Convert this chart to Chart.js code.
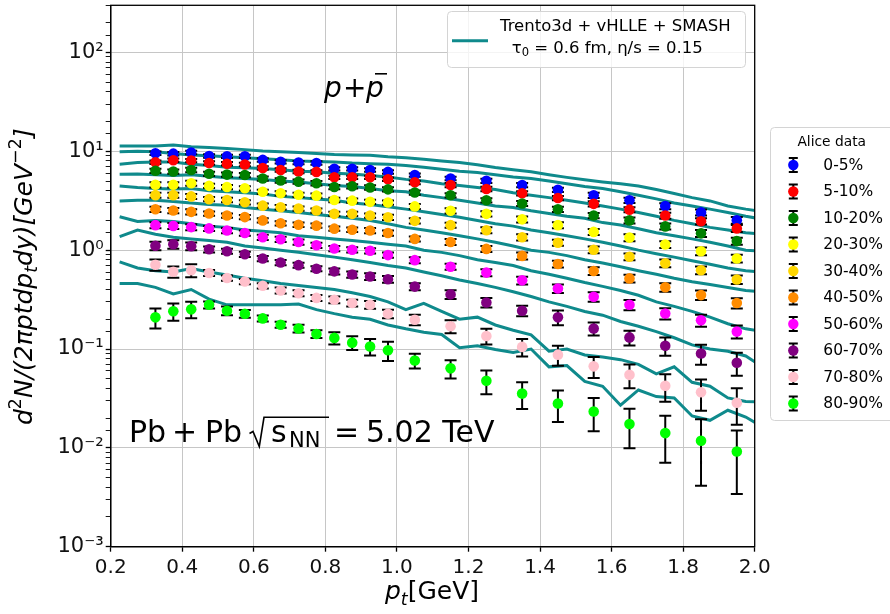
<!DOCTYPE html>
<html><head><meta charset="utf-8">
<style>html,body{margin:0;padding:0;background:#fff}#wrap{width:890px;height:614px;position:relative}</style>
<script src="https://cdn.jsdelivr.net/npm/chart.js@4"></script>
</head><body><div id="wrap"><canvas id="c" width="890" height="614"></canvas></div>
<script>
// ---------- data ----------
const centralities = ['0-5%','5-10%','10-20%','20-30%','30-40%','40-50%','50-60%','60-70%','70-80%','80-90%'];
const dotColors = ['#0000ff','#ff0000','#008000','#ffff00','#ffd700','#ff8c00','#ff00ff','#800080','#ffc0cb','#00ff00'];
const ptBins = [0.325,0.375,0.425,0.475,0.525,0.575,0.625,0.675,0.725,0.775,0.825,0.875,0.925,0.975,1.05,1.15,1.25,1.35,1.45,1.55,1.65,1.75,1.85,1.95];
const ptModel = [0.225,0.275,0.325,0.375,0.425,0.475,0.525,0.575,0.625,0.675,0.725,0.775,0.825,0.875,0.925,0.975,1.025,1.075,1.125,1.175,1.225,1.275,1.325,1.375,1.425,1.475,1.525,1.575,1.625,1.675,1.725,1.775,1.825,1.875,1.925,1.975,2.025];
const xTicks = [0.2,0.4,0.6,0.8,1.0,1.2,1.4,1.6,1.8,2.0];
const yTickLabels = {'-3':'10⁻³','-2':'10⁻²','-1':'10⁻¹','0':'10⁰','1':'10¹','2':'10²'};

// ALICE data (yield), per centrality
const d0_5   = [9.56,9.47,9.73,8.97,8.89,8.89,8.19,7.83,7.69,7.62,6.65,6.65,6.47,6.19,5.75,5.31,5.03,4.55,4.08,3.59,3.20,2.79,2.41,2.01];
const d5_10  = [7.76,8.12,8.05,7.62,7.48,7.35,6.77,6.48,6.24,6.19,5.45,5.45,5.45,5.21,4.85,4.55,4.16,3.76,3.37,2.94,2.57,2.24,1.96,1.66];
const d10_20 = [6.36,6.24,6.48,5.92,5.81,5.75,5.31,5.07,4.93,4.76,4.35,4.43,4.31,4.12,3.83,3.59,3.20,2.97,2.59,2.24,2.00,1.74,1.48,1.235];
const d20_30 = [4.59,4.59,4.76,4.47,4.35,4.23,3.90,3.76,3.63,3.56,3.22,3.17,3.08,3.03,2.77,2.50,2.33,2.05,1.79,1.53,1.34,1.14,0.976,0.822];
const d30_40 = [3.60,3.60,3.50,3.28,3.22,3.05,2.82,2.72,2.64,2.52,2.33,2.33,2.24,2.15,1.98,1.79,1.59,1.35,1.19,1.01,0.859,0.736,0.626,0.504];
const d40_50 = [2.59,2.52,2.44,2.35,2.24,2.16,2.00,1.87,1.81,1.77,1.65,1.61,1.58,1.49,1.30,1.21,1.03,0.875,0.724,0.615,0.518,0.421,0.351,0.292];
const d50_60 = [1.79,1.76,1.71,1.66,1.58,1.49,1.35,1.29,1.21,1.12,1.04,1.01,0.985,0.891,0.792,0.680,0.593,0.495,0.409,0.338,0.280,0.229,0.195,0.150];
const d60_70 = [1.108,1.148,1.098,1.02,0.976,0.908,0.822,0.750,0.705,0.649,0.610,0.567,0.542,0.508,0.428,0.357,0.295,0.244,0.209,0.161,0.131,0.108,0.090,0.0726];
const d70_80 = [0.711,0.604,0.626,0.588,0.523,0.482,0.436,0.391,0.367,0.329,0.315,0.292,0.280,0.227,0.198,0.170,0.1355,0.105,0.0877,0.0668,0.0548,0.0425,0.0365,0.0286];
const d80_90 = [0.209,0.241,0.252,0.280,0.244,0.227,0.204,0.176,0.161,0.142,0.1295,0.116,0.106,0.097,0.0766,0.0637,0.0478,0.0354,0.0281,0.0233,0.0174,0.0141,0.0118,0.0092];

// relative uncertainties
const e0_5   = [0.04,0.04,0.04,0.04,0.04,0.04,0.04,0.04,0.04,0.04,0.04,0.04,0.04,0.04,0.04,0.04,0.05,0.05,0.05,0.06,0.06,0.07,0.07,0.08];
const e5_10  = [0.04,0.04,0.04,0.04,0.04,0.04,0.04,0.04,0.04,0.04,0.04,0.04,0.04,0.04,0.04,0.05,0.05,0.05,0.05,0.06,0.06,0.07,0.07,0.08];
const e10_20 = [0.05,0.05,0.05,0.05,0.05,0.05,0.05,0.05,0.05,0.05,0.05,0.05,0.05,0.05,0.05,0.05,0.05,0.06,0.06,0.06,0.07,0.07,0.08,0.08];
const e20_30 = [0.06,0.06,0.06,0.05,0.05,0.05,0.05,0.05,0.05,0.05,0.05,0.05,0.05,0.05,0.06,0.06,0.06,0.07,0.07,0.07,0.08,0.08,0.09,0.09];
const e30_40 = [0.06,0.06,0.06,0.05,0.05,0.05,0.05,0.05,0.05,0.05,0.05,0.05,0.05,0.06,0.06,0.06,0.07,0.07,0.07,0.08,0.08,0.09,0.09,0.10];
const e40_50 = [0.06,0.06,0.06,0.05,0.05,0.05,0.05,0.05,0.05,0.05,0.05,0.05,0.06,0.06,0.06,0.07,0.07,0.08,0.08,0.09,0.09,0.10,0.11,0.12];
const e50_60 = [0.07,0.07,0.07,0.06,0.06,0.06,0.06,0.06,0.06,0.06,0.06,0.06,0.06,0.06,0.07,0.07,0.08,0.09,0.10,0.11,0.12,0.13,0.14,0.15];
const e60_70 = [0.10,0.10,0.09,0.07,0.06,0.06,0.06,0.06,0.06,0.06,0.07,0.07,0.08,0.08,0.08,0.10,0.11,0.12,0.17,0.15,0.17,0.21,0.23,0.26];
const e70_80 = [0.13,0.13,0.15,0.07,0.06,0.06,0.06,0.07,0.07,0.07,0.08,0.08,0.09,0.10,0.12,0.15,0.18,0.20,0.23,0.24,0.27,0.31,0.35,0.40];
const e80_90 = [0.23,0.20,0.19,0.08,0.10,0.09,0.07,0.07,0.09,0.09,0.14,0.16,0.19,0.22,0.17,0.21,0.27,0.30,0.35,0.37,0.43,0.50,0.65,0.63];

// Trento3d + vHLLE + SMASH model curves
const m0_5   = [11.3,11.3,11.3,11.6,11.1,10.9,10.7,10.4,10.1,9.9,9.7,9.5,9.3,9.2,9.1,8.8,8.6,8.3,8.0,7.7,7.3,6.85,6.5,6.2,5.8,5.45,5.15,4.9,4.7,4.45,4.1,3.75,3.4,3.15,2.8,2.6,2.45];
const m5_10  = [9.9,10.0,9.9,9.5,9.2,9.0,8.8,8.6,8.4,8.2,8.0,7.9,7.8,7.6,7.5,7.4,7.2,6.9,6.6,6.3,6.1,5.8,5.5,5.3,5.0,4.7,4.4,4.2,3.9,3.6,3.3,3.0,2.8,2.6,2.4,2.2,2.05];
const m10_20 = [7.4,7.7,7.8,7.8,7.4,7.2,6.9,6.8,6.7,6.5,6.3,6.2,6.0,5.9,5.7,5.5,5.2,5.0,4.7,4.5,4.3,4.1,3.8,3.6,3.4,3.2,3.0,2.8,2.6,2.4,2.2,2.0,1.85,1.7,1.6,1.5,1.45];
const m20_30 = [5.85,5.9,5.8,5.7,5.8,5.6,5.4,5.3,5.2,5.0,4.9,4.7,4.5,4.4,4.2,4.0,3.9,3.6,3.4,3.2,3.0,2.8,2.7,2.5,2.35,2.2,2.1,1.9,1.8,1.65,1.5,1.4,1.3,1.2,1.1,1.0,0.97];
const m30_40 = [4.45,4.3,4.2,4.15,4.2,4.0,3.9,3.8,3.7,3.5,3.4,3.3,3.2,3.0,2.9,2.75,2.6,2.45,2.3,2.15,2.0,1.85,1.75,1.6,1.5,1.4,1.3,1.2,1.1,1.0,0.92,0.85,0.78,0.72,0.66,0.62,0.6];
const m40_50 = [3.15,3.2,3.2,3.1,3.0,2.9,2.85,2.7,2.6,2.5,2.4,2.3,2.2,2.1,2.0,1.85,1.7,1.6,1.5,1.4,1.3,1.2,1.1,1.0,0.95,0.88,0.8,0.74,0.68,0.62,0.57,0.52,0.48,0.45,0.42,0.39,0.38];
const m50_60 = [2.18,1.95,2.0,1.95,1.85,1.75,1.7,1.6,1.55,1.5,1.4,1.35,1.3,1.25,1.2,1.15,1.1,1.0,0.95,0.88,0.8,0.75,0.7,0.62,0.57,0.52,0.47,0.43,0.39,0.35,0.3,0.27,0.24,0.21,0.18,0.16,0.15];
const m60_70 = [1.37,1.6,1.45,1.35,1.3,1.25,1.2,1.1,1.05,1.0,0.95,0.9,0.85,0.8,0.75,0.7,0.66,0.6,0.55,0.5,0.46,0.42,0.38,0.34,0.3,0.27,0.24,0.22,0.19,0.17,0.15,0.13,0.11,0.1,0.095,0.085,0.065];
const m70_80 = [0.76,0.66,0.62,0.60,0.65,0.60,0.56,0.52,0.49,0.46,0.44,0.42,0.40,0.37,0.34,0.30,0.25,0.29,0.24,0.20,0.21,0.175,0.155,0.139,0.095,0.10,0.087,0.083,0.078,0.070,0.056,0.066,0.046,0.042,0.032,0.0295,0.029];
const m80_90 = [0.46,0.46,0.42,0.36,0.40,0.32,0.28,0.28,0.28,0.28,0.285,0.25,0.228,0.21,0.20,0.175,0.16,0.148,0.14,0.103,0.108,0.099,0.092,0.10,0.066,0.068,0.047,0.042,0.027,0.0385,0.033,0.032,0.021,0.019,0.024,0.0205,0.016];

const dataSeries = [d0_5,d5_10,d10_20,d20_30,d30_40,d40_50,d50_60,d60_70,d70_80,d80_90];
const errSeries  = [e0_5,e5_10,e10_20,e20_30,e30_40,e40_50,e50_60,e60_70,e70_80,e80_90];
const modelSeries= [m0_5,m5_10,m10_20,m20_30,m30_40,m40_50,m50_60,m60_70,m70_80,m80_90];

// ---------- styling ----------
const TEAL = '#0f8a8c';
const FAM = '"DejaVu Sans"';
const GRID = '#c6c6c6';

const datasets = [];
dataSeries.forEach((arr, i) => {
  datasets.push({
    label: centralities[i], type: 'scatter',
    data: arr.map((v, k) => ({x: ptBins[k], y: v})),
    errRel: errSeries[i],
    backgroundColor: dotColors[i], borderWidth: 0,
    pointRadius: 5.3, pointHoverRadius: 5.3,
    order: 10 - i
  });
});
modelSeries.forEach((arr, i) => {
  datasets.push({
    label: 'model ' + centralities[i], type: 'line',
    data: arr.map((v, k) => ({x: ptModel[k], y: v})),
    borderColor: TEAL, borderWidth: 3, pointRadius: 0, fill: false, tension: 0,
    order: 100
  });
});

function runsWidth(ctx, runs, size) {
  let w = 0;
  for (const r of runs) {
    const s = r.sup || r.sub ? size * 0.7 : size;
    ctx.font = (r.it ? 'italic ' : '') + s + 'px ' + FAM;
    w += ctx.measureText(r.t).width;
  }
  return w;
}
function drawRuns(ctx, runs, x, y, size, align) {
  const total = runsWidth(ctx, runs, size);
  let cx = align === 'center' ? x - total / 2 : (align === 'right' ? x - total : x);
  ctx.textAlign = 'left'; ctx.textBaseline = 'alphabetic';
  for (const r of runs) {
    const s = r.sup || r.sub ? size * 0.7 : size;
    ctx.font = (r.it ? 'italic ' : '') + s + 'px ' + FAM;
    const dy = r.sup ? -size * 0.42 : (r.sub ? size * 0.22 : 0);
    ctx.fillText(r.t, cx, y + dy);
    cx += ctx.measureText(r.t).width;
  }
  return total;
}
function roundRect(ctx, x, y, w, h, r) {
  ctx.beginPath();
  ctx.moveTo(x + r, y); ctx.lineTo(x + w - r, y); ctx.quadraticCurveTo(x + w, y, x + w, y + r);
  ctx.lineTo(x + w, y + h - r); ctx.quadraticCurveTo(x + w, y + h, x + w - r, y + h);
  ctx.lineTo(x + r, y + h); ctx.quadraticCurveTo(x, y + h, x, y + h - r);
  ctx.lineTo(x, y + r); ctx.quadraticCurveTo(x, y, x + r, y); ctx.closePath();
}

const errorBars = {
  id: 'errorBars',
  beforeDatasetDraw(chart, args) {
    const ds = chart.data.datasets[args.index];
    if (!ds.errRel) return;
    const {ctx, chartArea: a} = chart;
    const xs = chart.scales.x, ys = chart.scales.y;
    ctx.save();
    ctx.beginPath(); ctx.rect(a.left, a.top, a.right - a.left, a.bottom - a.top); ctx.clip();
    ctx.strokeStyle = '#000'; ctx.lineWidth = 2; ctx.lineCap = 'butt';
    ctx.beginPath();
    ds.data.forEach((p, i) => {
      const e = p.y * ds.errRel[i];
      const px = xs.getPixelForValue(p.x);
      const yt = ys.getPixelForValue(p.y + e);
      const yb = ys.getPixelForValue(Math.max(p.y - e, 1e-6));
      ctx.moveTo(px, yt); ctx.lineTo(px, yb);
      ctx.moveTo(px - 6, yt); ctx.lineTo(px + 6, yt);
      ctx.moveTo(px - 6, yb); ctx.lineTo(px + 6, yb);
    });
    ctx.stroke();
    ctx.restore();
  }
};

const decorations = {
  id: 'decorations',
  afterDraw(chart) {
    const {ctx, chartArea: a} = chart;
    ctx.save();
    ctx.strokeStyle = '#000'; ctx.lineWidth = 1.3;
    ctx.strokeRect(a.left, a.top, a.right - a.left, a.bottom - a.top);

    // ---- top legend (model) ----
    ctx.fillStyle = 'rgba(255,255,255,0.8)';
    roundRect(ctx, 447.5, 11.5, 298, 56, 4); ctx.fill();
    ctx.strokeStyle = '#d4d4d4'; ctx.lineWidth = 1; ctx.stroke();
    ctx.strokeStyle = TEAL; ctx.lineWidth = 3;
    ctx.beginPath(); ctx.moveTo(452, 40.7); ctx.lineTo(488, 40.7); ctx.stroke();
    ctx.fillStyle = '#000';
    drawRuns(ctx, [{t: 'Trento3d + vHLLE + SMASH'}], 500, 31, 16.5, 'left');
    drawRuns(ctx, [{t: 'τ'}, {t: '0', sub: true}, {t: ' = 0.6 fm, η/s = 0.15'}], 511.7, 52.5, 16.5, 'left');

    // ---- right legend (data) ----
    ctx.fillStyle = 'rgba(255,255,255,0.8)';
    roundRect(ctx, 770.5, 127.5, 130, 293, 4); ctx.fill();
    ctx.strokeStyle = '#d4d4d4'; ctx.lineWidth = 1; ctx.stroke();
    ctx.fillStyle = '#000';
    drawRuns(ctx, [{t: 'Alice data'}], 831.7, 145.5, 13.8, 'center');
    centralities.forEach((lab, i) => {
      const yc = 165 + 26.5 * i;
      const xm = 793.3;
      ctx.strokeStyle = '#000'; ctx.lineWidth = 2;
      ctx.beginPath();
      ctx.moveTo(xm, yc - 7); ctx.lineTo(xm, yc + 7);
      ctx.moveTo(xm - 4.5, yc - 7); ctx.lineTo(xm + 4.5, yc - 7);
      ctx.moveTo(xm - 4.5, yc + 7); ctx.lineTo(xm + 4.5, yc + 7);
      ctx.stroke();
      ctx.fillStyle = dotColors[i];
      ctx.beginPath(); ctx.arc(xm, yc, 5.2, 0, Math.PI * 2); ctx.fill();
      ctx.fillStyle = '#000';
      ctx.font = '15.5px ' + FAM; ctx.textAlign = 'left'; ctx.textBaseline = 'middle';
      ctx.fillText(lab, 823.3, yc + 0.5);
    });

    // ---- annotations ----
    ctx.fillStyle = '#000';
    ctx.font = 'italic 28px ' + FAM; ctx.textAlign = 'left'; ctx.textBaseline = 'alphabetic';
    ctx.fillText('p', 324, 97);
    ctx.font = '28px ' + FAM; ctx.fillText('+', 343, 97);
    ctx.font = 'italic 28px ' + FAM; ctx.fillText('p', 366, 97);
    ctx.strokeStyle = '#000'; ctx.lineWidth = 1.6;
    ctx.beginPath(); ctx.moveTo(375, 73.8); ctx.lineTo(387, 73.8); ctx.stroke();

    // Pb + Pb sqrt(s_NN) = 5.02 TeV
    ctx.font = '30px ' + FAM;
    ctx.fillText('Pb', 129, 441.7);
    ctx.fillText('+', 172, 441.7);
    ctx.fillText('Pb', 205, 441.7);
    ctx.lineWidth = 1.6;
    ctx.beginPath();
    ctx.moveTo(249.5, 433.5); ctx.lineTo(253, 431.5); ctx.lineTo(259.3, 446.5); ctx.lineTo(264, 417.3); ctx.lineTo(329, 417.3);
    ctx.stroke();
    ctx.fillText('s', 271, 441.7);
    ctx.font = '21px ' + FAM; ctx.fillText('NN', 289, 447);
    ctx.font = '30px ' + FAM;
    ctx.fillText('=', 334, 441.7);
    ctx.fillText('5.02 TeV', 366, 441.7);

    // axis titles
    drawRuns(ctx, [{t: 'p', it: true}, {t: 't', it: true, sub: true}, {t: '[GeV]'}], 432, 599, 25, 'center');
    ctx.save();
    ctx.translate(31.7, 276.7); ctx.rotate(-Math.PI / 2);
    drawRuns(ctx, [
      {t: 'd', it: true}, {t: '2', sup: true}, {t: 'N/(2πptdp', it: true}, {t: 't', it: true, sub: true},
      {t: 'dy)[GeV', it: true}, {t: '−2', sup: true}, {t: ']', it: true}
    ], 0, 0, 25, 'center');
    ctx.restore();
    ctx.restore();
  }
};

const isDecade = v => Math.abs(Math.log10(v) - Math.round(Math.log10(v))) < 1e-6;

new Chart(document.getElementById('c'), {
  data: {datasets},
  options: {
    responsive: false, animation: false, devicePixelRatio: 1,
    layout: {padding: {left: 0, right: 135.3, top: -2.5, bottom: 0}},
    plugins: {legend: {display: false}, tooltip: {enabled: false}},
    scales: {
      x: {
        type: 'linear', min: 0.2, max: 2.0,
        afterFit(s) { s.height = 67.3; s.paddingLeft = 0; s.paddingRight = 0; },
        afterBuildTicks(s) { s.ticks = xTicks.map(v => ({value: v})); },
        border: {display: true, color: '#000', width: 1.3},
        grid: {color: GRID, lineWidth: 1, drawTicks: true, tickLength: 5, tickColor: '#000', tickWidth: 1.3},
        ticks: {padding: 4, color: '#111', font: {family: 'DejaVu Sans', size: 20},
          maxRotation: 0, autoSkip: false, callback: v => v.toFixed(1)}
      },
      y: {
        type: 'logarithmic', min: 0.001, max: 300,
        afterFit(s) { s.width = 110.7; s.paddingTop = 0; s.paddingBottom = 0; },
        border: {display: true, color: '#000', width: 1.3},
        grid: {
          color: c => (c.tick && isDecade(c.tick.value)) ? GRID : 'rgba(0,0,0,0)',
          lineWidth: 1, drawTicks: true, tickLength: 5, tickColor: '#000',
          tickWidth: c => (c.tick && isDecade(c.tick.value)) ? 1.3 : 0.9
        },
        ticks: {padding: 2, color: '#111', font: {family: 'DejaVu Sans', size: 21}, autoSkip: false,
          callback: v => isDecade(v) ? yTickLabels[String(Math.round(Math.log10(v)))] : ''}
      }
    }
  },
  plugins: [errorBars, decorations]
});
</script>
</body></html>
